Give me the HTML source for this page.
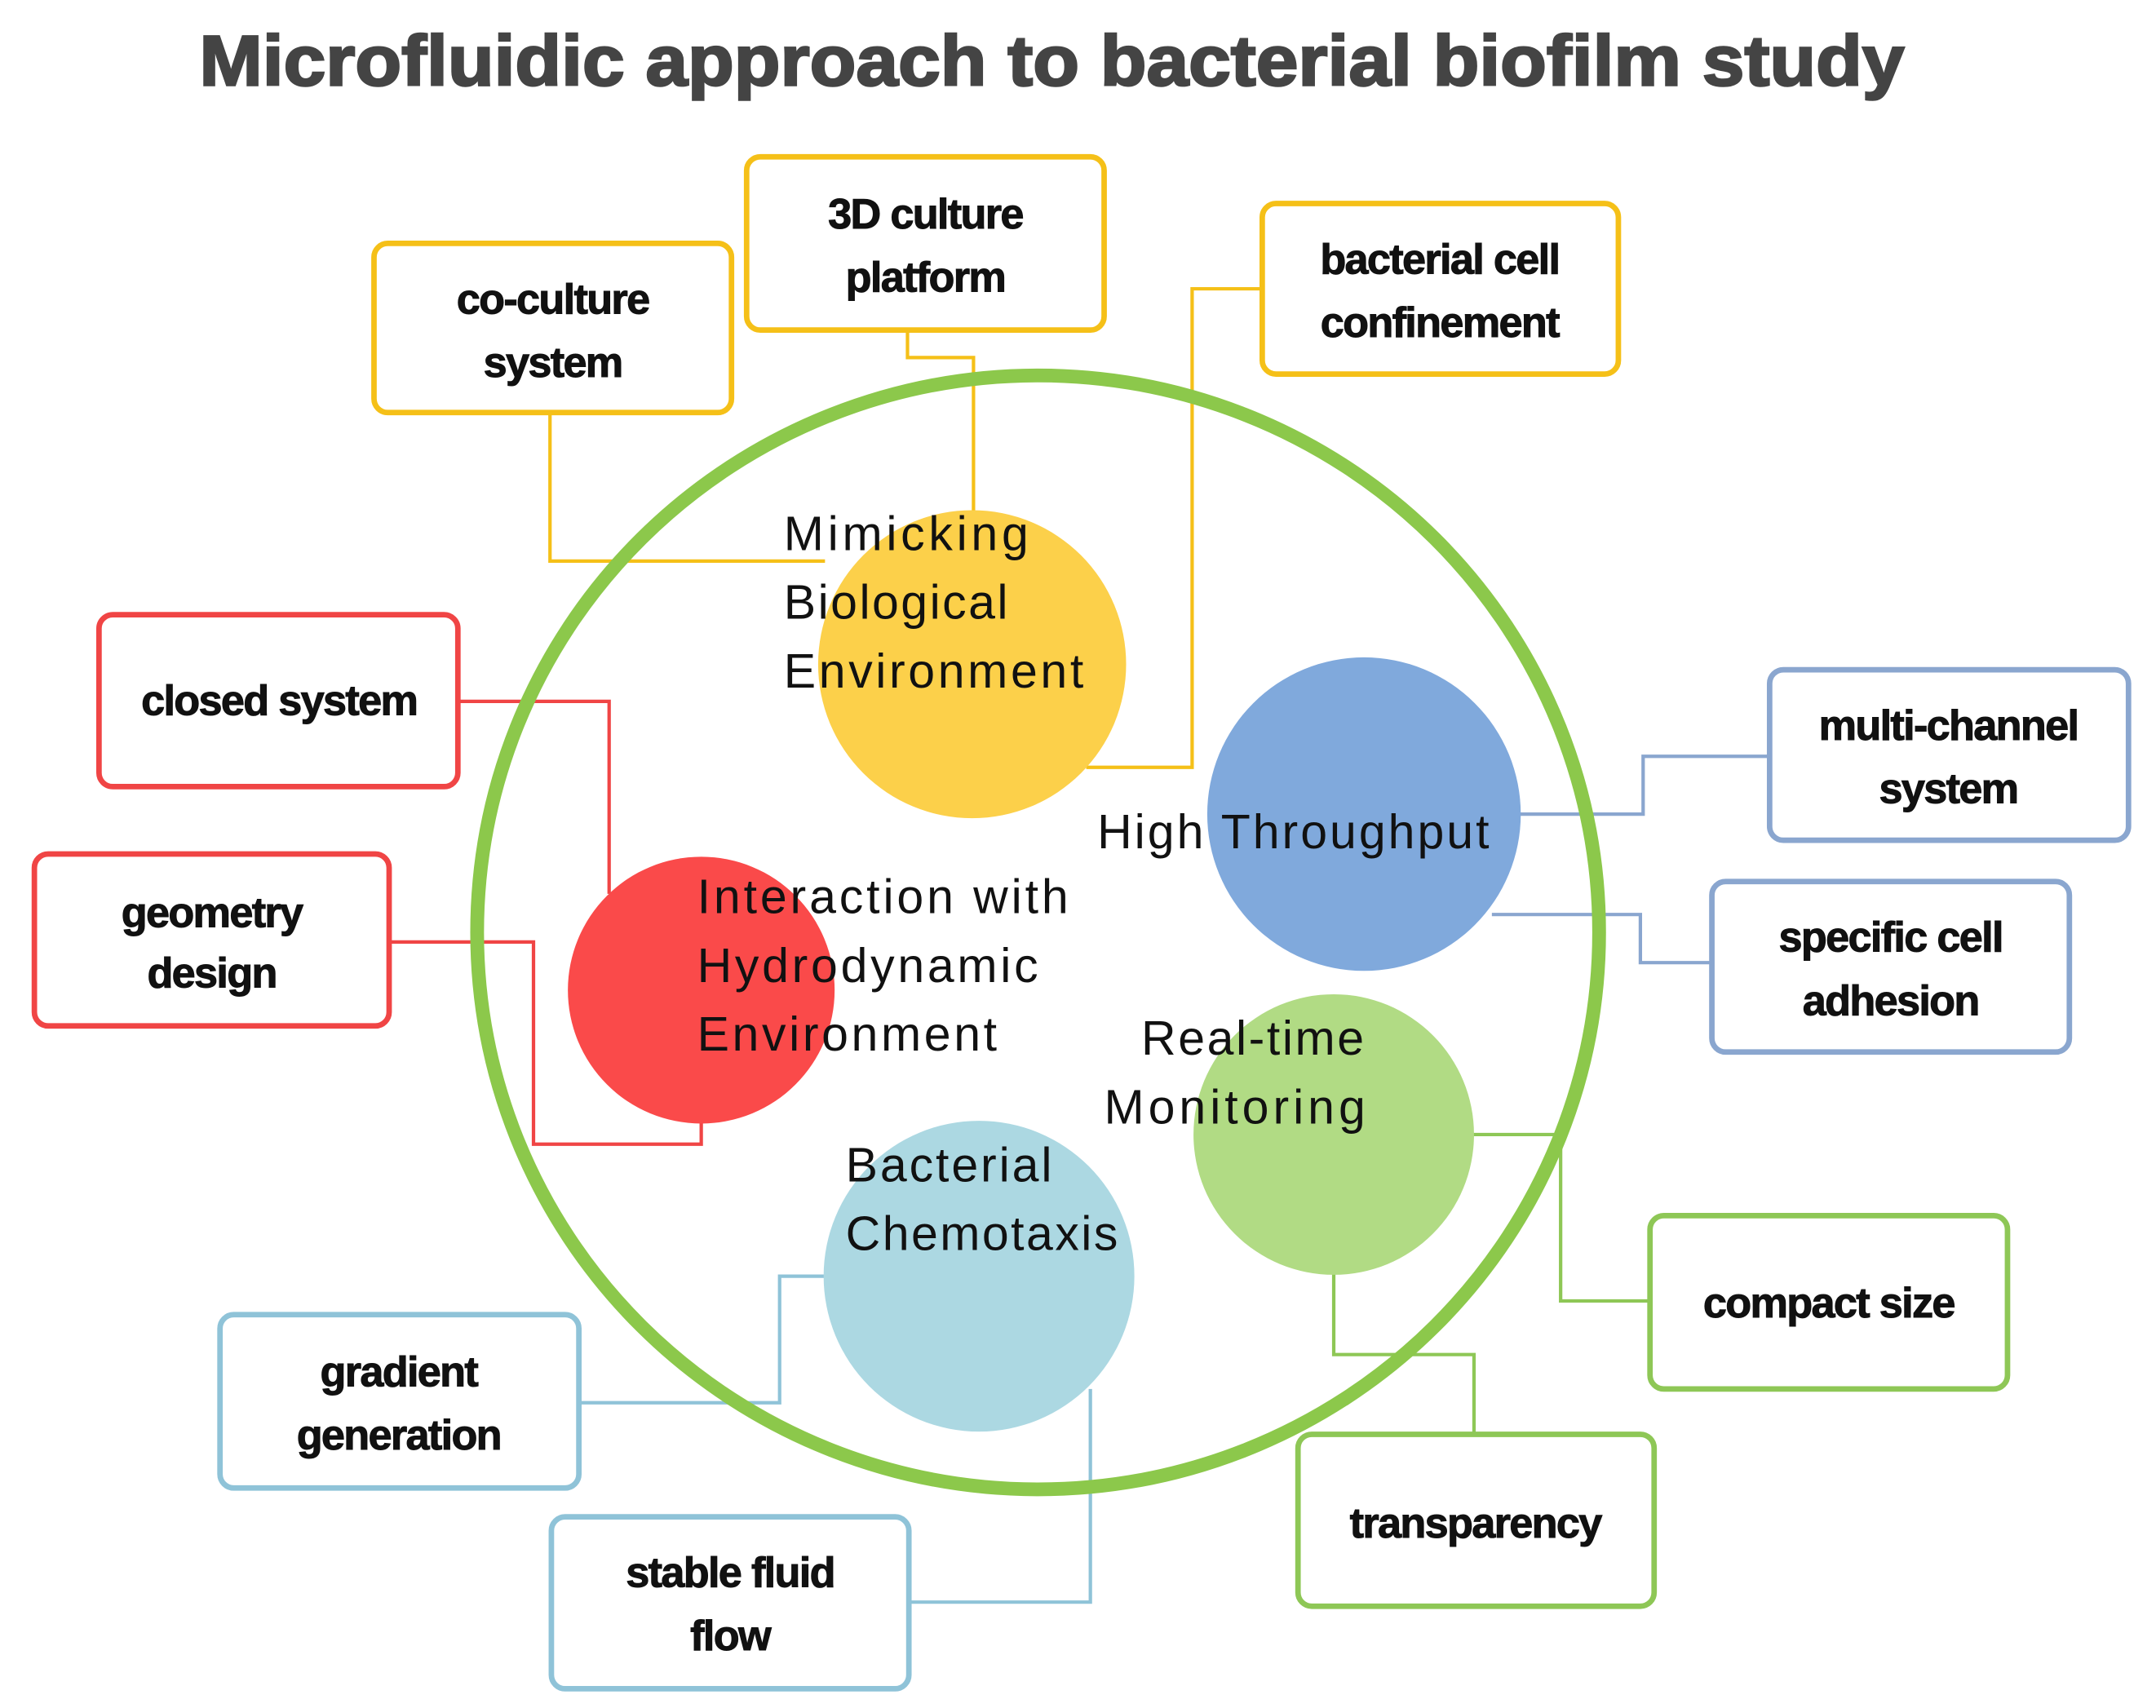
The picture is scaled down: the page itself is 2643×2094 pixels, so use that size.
<!DOCTYPE html>
<html><head><meta charset="utf-8"><style>
html,body{margin:0;padding:0;background:#fff;}
svg{display:block;}
text{font-family:"Liberation Sans",sans-serif;}
.b{font-weight:bold;font-size:31px;fill:#111;text-anchor:middle;letter-spacing:-1px;stroke:#111;stroke-width:0.6;}
.c{font-size:35px;fill:#111;}
</style></head><body>
<svg width="2643" height="2094" viewBox="0 0 1568 1242" preserveAspectRatio="none" xmlns="http://www.w3.org/2000/svg">
<text x="145" y="62" font-size="52" font-weight="bold" fill="#444" stroke="#444" stroke-width="1.5" textLength="1240" lengthAdjust="spacingAndGlyphs">Microfluidic approach to bacterial biofilm study</text>

<g fill="none" stroke-width="2.5">
<polyline stroke="#f5c018" points="400,300 400,408 600,408"/>
<polyline stroke="#f5c018" points="660,240 660,260 708,260 708,375"/>
<polyline stroke="#f5c018" points="918,210 867,210 867,558 790,558"/>
<polyline stroke="#f04545" points="333,510 443,510 443,650"/>
<polyline stroke="#f04545" points="283,685 388,685 388,832 510,832 510,815"/>
<polyline stroke="#8aa6cf" points="1287,550 1195,550 1195,592 1105,592"/>
<polyline stroke="#8aa6cf" points="1245,700 1193,700 1193,665 1085,665"/>
<polyline stroke="#8ec756" points="1200,946 1135,946 1135,825 1070,825"/>
<polyline stroke="#8ec756" points="1072,1043 1072,985 970,985 970,925"/>
<polyline stroke="#8fc3d8" points="421,1020 567,1020 567,928 600,928"/>
<polyline stroke="#8fc3d8" points="661,1165 793,1165 793,1010"/>
</g>

<ellipse cx="755" cy="678" rx="408" ry="405" fill="none" stroke="#8cc84b" stroke-width="10"/>

<circle cx="707" cy="483" r="112" fill="#fcd04a"/>
<circle cx="992" cy="592" r="114" fill="#80a9dc"/>
<circle cx="510" cy="720" r="97" fill="#fa4a4a"/>
<circle cx="970" cy="825" r="102" fill="#b1db84"/>
<circle cx="712" cy="928" r="113" fill="#acd8e2"/>

<text class="c" x="570" y="400" textLength="178">Mimicking</text>
<text class="c" x="570" y="450" textLength="163">Biological</text>
<text class="c" x="570" y="500" textLength="218">Environment</text>
<text class="c" x="798" y="617" textLength="285">High Throughput</text>
<text class="c" x="507" y="664" textLength="270">Interaction with</text>
<text class="c" x="507" y="714" textLength="248">Hydrodynamic</text>
<text class="c" x="507" y="764" textLength="218">Environment</text>
<text class="c" x="830" y="767" textLength="162">Real-time</text>
<text class="c" x="803" y="817" textLength="190">Monitoring</text>
<text class="c" x="615" y="859" textLength="150">Bacterial</text>
<text class="c" x="615" y="909" textLength="198">Chemotaxis</text>

<g fill="#fff" stroke-width="4">
<rect x="272" y="177" width="260" height="123" rx="10" stroke="#f5c018"/>
<rect x="543" y="114" width="260" height="126" rx="10" stroke="#f5c018"/>
<rect x="918" y="148" width="259" height="124" rx="10" stroke="#f5c018"/>
<rect x="72" y="447" width="261" height="125" rx="10" stroke="#f04545"/>
<rect x="25" y="621" width="258" height="125" rx="10" stroke="#f04545"/>
<rect x="1287" y="487" width="261" height="124" rx="10" stroke="#8aa6cf"/>
<rect x="1245" y="641" width="260" height="124" rx="10" stroke="#8aa6cf"/>
<rect x="1200" y="884" width="260" height="126" rx="10" stroke="#8ec756"/>
<rect x="944" y="1043" width="259" height="125" rx="10" stroke="#8ec756"/>
<rect x="160" y="956" width="261" height="126" rx="10" stroke="#8fc3d8"/>
<rect x="401" y="1103" width="260" height="125" rx="10" stroke="#8fc3d8"/>
</g>

<text class="b" x="402" y="228">co-culture</text>
<text class="b" x="402" y="274">system</text>
<text class="b" x="673" y="166">3D culture</text>
<text class="b" x="673" y="212">platform</text>
<text class="b" x="1047" y="199">bacterial cell</text>
<text class="b" x="1047" y="245">confinement</text>
<text class="b" x="203" y="520">closed system</text>
<text class="b" x="154" y="674">geometry</text>
<text class="b" x="154" y="718">design</text>
<text class="b" x="1417" y="538">multi-channel</text>
<text class="b" x="1417" y="584">system</text>
<text class="b" x="1375" y="692">specific cell</text>
<text class="b" x="1375" y="738">adhesion</text>
<text class="b" x="1330" y="958">compact size</text>
<text class="b" x="1073" y="1118">transparency</text>
<text class="b" x="290" y="1008">gradient</text>
<text class="b" x="290" y="1054">generation</text>
<text class="b" x="531" y="1154">stable fluid</text>
<text class="b" x="531" y="1200">flow</text>
</svg>
</body></html>
